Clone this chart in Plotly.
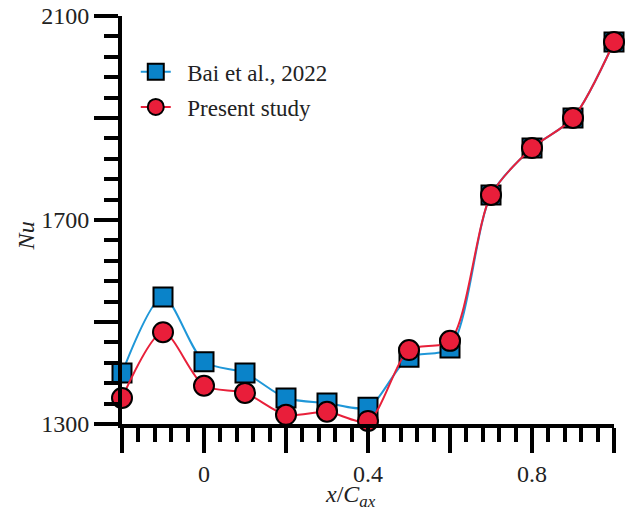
import plotly.graph_objects as go

x_vals = [-0.2, -0.1, 0.0, 0.1, 0.2, 0.3, 0.4, 0.5, 0.6, 0.7, 0.8, 0.9, 1.0]
bai_2022 = [1400, 1549, 1422, 1400, 1351, 1341, 1333, 1431, 1449, 1749, 1841, 1900, 2049]
present = [1351, 1480, 1375, 1361, 1318, 1324, 1306, 1445, 1463, 1749, 1841, 1900, 2049]

x_tickvals = [-0.2, 0.0, 0.2, 0.4, 0.6, 0.8, 1.0]
x_ticktext = ["", "0", "", "0.4", "", "0.8", ""]
y_tickvals = [1300, 1500, 1700, 1900, 2100]
y_ticktext = ["1300", "", "1700", "", "2100"]

FONT = "Liberation Serif, Times New Roman, serif"
TXT = "#222222"
FS = 24

fig = go.Figure()
fig.add_trace(go.Scatter(
    x=x_vals, y=bai_2022, name="\u00a0\u00a0Bai et al., 2022", mode="lines+markers",
    line=dict(color="#1f97d8", width=2, shape="spline", smoothing=0.8),
    marker=dict(symbol="square", size=19, color="#0a83c9", line=dict(color="black", width=2)),
    cliponaxis=False, legend="legend",
))
fig.add_trace(go.Scatter(
    x=x_vals, y=present, name="\u00a0\u00a0Present study", mode="lines+markers",
    line=dict(color="#e8203a", width=2, shape="spline", smoothing=0.8),
    marker=dict(symbol="circle", size=20, color="#e91e3a", line=dict(color="black", width=2)),
    cliponaxis=False, legend="legend2",
))

fig.update_layout(
    width=633, height=511,
    margin=dict(l=122, r=19, t=16, b=87, autoexpand=False),
    paper_bgcolor="white", plot_bgcolor="white",
    font=dict(family=FONT, size=FS, color=TXT),
    legend=dict(x=0.028, y=0.863, xanchor="left", yanchor="middle",
                bgcolor="rgba(0,0,0,0)", font=dict(family=FONT, size=23, color=TXT)),
    legend2=dict(x=0.028, y=0.777, xanchor="left", yanchor="middle",
                 bgcolor="rgba(0,0,0,0)", font=dict(family=FONT, size=23, color=TXT)),
    showlegend=True,
    annotations=[
        dict(text="<i>x</i>/<i>C<sub>ax</sub></i>", xref="paper", yref="paper",
             x=0.465, y=-0.176, xanchor="center", yanchor="middle", showarrow=False,
             font=dict(family=FONT, size=FS, color=TXT)),
        dict(text="<i>Nu</i>", xref="paper", yref="paper", textangle=-90,
             x=-0.195, y=0.46, xanchor="center", yanchor="middle", showarrow=False,
             font=dict(family=FONT, size=FS, color=TXT)),
    ],
)

fig.update_xaxes(
    range=[-0.2, 1.0], showgrid=False, zeroline=False, automargin=False,
    showline=True, linewidth=4, linecolor="black",
    ticks="outside", ticklen=25, tickwidth=4, tickcolor="black",
    tickvals=x_tickvals, ticktext=x_ticktext,
    tickfont=dict(family=FONT, size=FS, color=TXT),
    minor=dict(dtick=0.04, tick0=-0.2, ticks="outside", ticklen=14, tickwidth=4, tickcolor="black", showgrid=False),
)
fig.update_yaxes(
    range=[1300, 2100], showgrid=False, zeroline=False, automargin=False,
    showline=True, linewidth=4, linecolor="black",
    ticks="outside", ticklen=24, tickwidth=4, tickcolor="black",
    tickvals=y_tickvals, ticktext=y_ticktext,
    tickfont=dict(family=FONT, size=FS, color=TXT),
    minor=dict(dtick=40, tick0=1300, ticks="outside", ticklen=14, tickwidth=4, tickcolor="black", showgrid=False),
)

fig.write_html("out.html")
